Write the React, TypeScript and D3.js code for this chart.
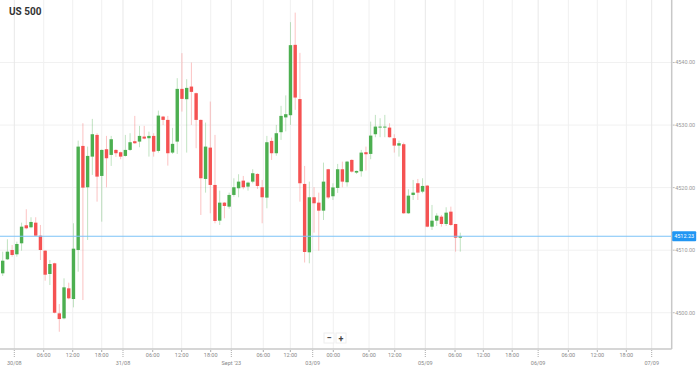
import React from "react";
import * as d3 from "d3";

const W = 699;
const H = 367;

// hourly candles
const opens = [
  4506.3, 4508.54, 4510.03, 4509.34, 4511.1, 4513.98, 4513.66, 4514.4, 4512.32, 4509.92,
  4506.19, 4507.9, 4499.9, 4499.1, 4503.9, 4502.19, 4510.03, 4526.67, 4520.06, 4524.96,
  4528.43, 4521.87, 4526.14, 4525.23, 4526.03, 4525.66, 4525.07, 4526.03, 4527.42, 4527.36,
  4528.16, 4527.9, 4528.27, 4525.87, 4531.36, 4530.83, 4525.6, 4527.36, 4535.79, 4534.14,
  4536.16, 4535.1, 4530.83, 4521.39, 4526.4, 4520.43, 4514.72, 4517.6, 4516.96, 4518.83,
  4519.9, 4521.12, 4520.16, 4520.96, 4522.19, 4520.06, 4518.4, 4527.47, 4525.5, 4528.86,
  4531.23, 4531.58, 4542.83, 4534.16, 4520.59, 4509.66, 4518.46, 4517.6, 4516.32, 4522.94,
  4518.62, 4519.95, 4522.94, 4520.86, 4524.43, 4522.4, 4522.62, 4525.66, 4525.39, 4528.54,
  4529.6, 4529.6, 4529.6, 4527.9, 4526.72, 4526.94, 4515.9, 4518.83, 4520.7, 4519.36,
  4520.32, 4513.76, 4514.72, 4515.36, 4514.19, 4516.16, 4514.19, 4512.0,
];
const highs = [
  4509.76, 4511.74, 4510.83, 4511.36, 4514.4, 4516.54, 4515.26, 4515.26, 4514.03, 4510.0,
  4508.43, 4508.0, 4501.39, 4505.5, 4504.8, 4514.3, 4527.52, 4530.3, 4526.56, 4530.99,
  4528.7, 4526.1, 4528.27, 4528.27, 4526.14, 4525.76, 4528.43, 4528.7, 4531.47, 4529.87,
  4529.87, 4528.96, 4528.7, 4532.32, 4531.47, 4531.47, 4529.55, 4537.5, 4541.5, 4537.34,
  4540.0, 4535.2, 4530.9, 4530.4, 4533.76, 4528.43, 4519.52, 4517.7, 4519.2, 4521.5,
  4522.14, 4521.87, 4520.96, 4522.94, 4522.3, 4521.23, 4528.27, 4528.0, 4530.03, 4533.07,
  4534.75, 4546.46, 4547.98, 4541.55, 4523.47, 4520.96, 4520.06, 4519.2, 4524.0, 4523.0,
  4520.7, 4523.79, 4524.16, 4524.27, 4524.54, 4522.72, 4526.03, 4526.56, 4530.56, 4531.63,
  4531.1, 4531.63, 4530.3, 4528.54, 4527.52, 4527.2, 4519.74, 4521.23, 4521.39, 4521.5,
  4520.43, 4517.23, 4515.9, 4515.63, 4516.86, 4516.96, 4514.2, 4512.8,
];
const lows = [
  4505.87, 4508.43, 4508.96, 4508.96, 4509.92, 4513.34, 4513.5, 4512.27, 4508.43, 4505.12,
  4504.43, 4499.9, 4496.96, 4498.94, 4502.14, 4500.86, 4506.56, 4502.03, 4511.63, 4522.03,
  4517.76, 4514.56, 4520.06, 4523.47, 4524.91, 4524.54, 4524.96, 4525.87, 4526.99, 4526.46,
  4527.74, 4524.96, 4524.96, 4525.6, 4530.0, 4523.52, 4525.39, 4525.39, 4532.16, 4525.6,
  4530.03, 4526.3, 4515.63, 4519.2, 4515.9, 4514.3, 4514.03, 4515.1, 4516.64, 4518.56,
  4518.46, 4519.74, 4519.52, 4520.7, 4519.79, 4514.3, 4516.7, 4524.43, 4525.1, 4527.63,
  4529.0, 4530.03, 4532.43, 4517.76, 4508.03, 4507.9, 4512.8, 4509.92, 4514.83, 4518.19,
  4518.03, 4519.15, 4520.06, 4520.16, 4522.4, 4522.19, 4521.76, 4522.72, 4524.54, 4528.06,
  4528.06, 4528.06, 4528.0, 4525.6, 4524.96, 4515.8, 4515.8, 4518.03, 4518.03, 4519.1,
  4513.66, 4513.23, 4513.87, 4513.76, 4513.87, 4513.87, 4509.76, 4509.76,
];
const closes = [
  4508.32, 4509.76, 4509.23, 4510.99, 4513.76, 4513.5, 4514.51, 4512.32, 4510.03, 4506.08,
  4507.79, 4500.0, 4498.99, 4504.06, 4502.3, 4510.24, 4526.56, 4520.0, 4525.07, 4528.54,
  4521.76, 4526.03, 4524.7, 4527.74, 4525.5, 4524.96, 4526.03, 4527.26, 4527.1, 4528.27,
  4527.84, 4528.27, 4525.76, 4531.52, 4530.83, 4525.5, 4527.0, 4535.79, 4534.19, 4535.95,
  4535.31, 4530.83, 4521.5, 4526.56, 4520.43, 4514.67, 4517.6, 4517.07, 4518.83, 4520.06,
  4520.96, 4520.06, 4520.8, 4522.3, 4520.27, 4518.46, 4527.26, 4525.5, 4528.7, 4531.47,
  4531.74, 4542.78, 4534.4, 4520.7, 4509.71, 4518.46, 4517.5, 4516.32, 4520.96, 4518.43,
  4520.03, 4522.94, 4520.96, 4524.16, 4522.56, 4522.67, 4525.6, 4525.34, 4528.32, 4529.76,
  4529.76, 4529.76, 4528.06, 4526.72, 4527.1, 4515.9, 4518.72, 4519.2, 4519.2, 4520.27,
  4513.76, 4514.72, 4515.52, 4514.19, 4516.0, 4514.03, 4512.0, 4512.23,
];

const lastPrice = 4512.23;

const yTicks = [4500, 4510, 4520, 4530, 4540];

// x tick positions in candle slots
const xTickPos = [
  2.46, 8.69, 14.84, 20.99, 25.5, 31.8, 37.94, 44.09, 48.46, 55.24, 60.97, 65.71,
  70.08, 77.65, 83.1, 89.58, 95.88, 101.88, 108.0, 113.5, 119.9, 126.04, 132.19, 137.57,
];
const xTickLabels = [
  "30/08", "06:00", "12:00", "18:00", "31/08", "06:00", "12:00", "18:00", "Sept '23",
  "06:00", "12:00", "03/09", "00:00", "06:00", "12:00", "05/09", "06:00", "12:00",
  "18:00", "06/09", "06:00", "12:00", "18:00", "07/09",
];
const xTickIsDate = [
  true, false, false, false, true, false, false, false, true, false, false, true,
  false, false, false, true, false, false, false, true, false, false, false, true,
];

const plotRight = 671.7;
const plotBottom = 349;

const UP = "#4caf50";
const DOWN = "#f55252";

export default function App() {
  const x = d3.scaleLinear().domain([-0.572, 141.81]).range([0, plotRight]);
  const y = d3.scaleLinear().domain([4494.2, 4550.0]).range([plotBottom, 0]);
  const bw = 3.4;
  const font = "Roboto, 'Open Sans', sans-serif";

  return (
    <div style={{ position: "absolute", left: 0, top: 0 }}>
      <svg width={W} height={H} style={{ display: "block", background: "#fff" }}>
        {/* grid */}
        {yTicks.map((t) => (
          <line key={"gy" + t} x1={0} x2={plotRight} y1={y(t)} y2={y(t)} stroke="#f1f1f1" />
        ))}
        {xTickPos.map((p, i) => (
          <line
            key={"gx" + i}
            x1={x(p)}
            x2={x(p)}
            y1={0}
            y2={plotBottom}
            stroke={xTickIsDate[i] ? "#e8e8e8" : "#f0f0f0"}
          />
        ))}

        {/* candles */}
        {opens.map((o, i) => {
          const c = closes[i];
          const up = c >= o;
          const col = up ? UP : DOWN;
          const cx = x(i);
          const top = y(Math.max(o, c));
          const bot = y(Math.min(o, c));
          return (
            <g key={i}>
              <line
                x1={cx}
                x2={cx}
                y1={y(highs[i])}
                y2={y(lows[i])}
                stroke={col}
                strokeOpacity={0.35}
                strokeWidth={1}
              />
              <rect
                x={cx - bw / 2}
                y={top}
                width={bw}
                height={Math.max(1, bot - top)}
                fill={col}
              />
            </g>
          );
        })}

        {/* last price line */}
        <line
          x1={0}
          x2={plotRight}
          y1={y(lastPrice)}
          y2={y(lastPrice)}
          stroke="#7cc3f7"
          strokeWidth={1.2}
        />

        {/* borders */}
        <line x1={plotRight} x2={plotRight} y1={0} y2={plotBottom} stroke="#c8c8c8" strokeWidth={1.5} />
        <line x1={0} x2={plotRight} y1={plotBottom} y2={plotBottom} stroke="#c8c8c8" strokeWidth={1.5} />

        {/* y axis */}
        {yTicks.map((t) => (
          <g key={"yl" + t}>
            <line x1={plotRight + 1} x2={plotRight + 3} y1={y(t)} y2={y(t)} stroke="#bbb" />
            <text
              x={plotRight + 3.5}
              y={y(t)}
              dy="0.35em"
              fontSize={5.5}
              fill="#999"
              fontFamily={font}
            >
              {t.toFixed(2)}
            </text>
          </g>
        ))}
        <rect x={plotRight + 0.5} y={y(lastPrice) - 5} width={24} height={10} fill="#2196f3" rx={1} />
        <text
          x={plotRight + 12.5}
          y={y(lastPrice)}
          dy="0.35em"
          textAnchor="middle"
          fontSize={5.5}
          fill="#fff"
          fontFamily={font}
        >
          {lastPrice.toFixed(2)}
        </text>

        {/* x axis */}
        {xTickPos.map((p, i) => (
          <g key={"xl" + i}>
            <line
              x1={x(p)}
              x2={x(p)}
              y1={plotBottom + 1}
              y2={xTickIsDate[i] ? plotBottom + 9 : plotBottom + 3}
              stroke="#aaa"
              strokeDasharray={xTickIsDate[i] ? "1,1" : undefined}
            />
            <text
              x={x(p)}
              y={xTickIsDate[i] ? 365 : 357}
              textAnchor="middle"
              fontSize={5.5}
              fill="#888"
              fontFamily={font}
            >
              {xTickLabels[i]}
            </text>
          </g>
        ))}

        {/* title */}
        <text x={9} y={15} fontSize={10} fontWeight="bold" fill="#333" fontFamily={font}>
          US 500
        </text>

        {/* zoom buttons */}
        <g fontFamily={font} fill="#444" fontSize={9}>
          <rect x={324} y={333} width={10} height={10} fill="#fff" stroke="#eee" />
          <rect x={336} y={333} width={10} height={10} fill="#fff" stroke="#eee" />
          <text x={329} y={341} textAnchor="middle" fontWeight="bold">−</text>
          <text x={341} y={341.5} textAnchor="middle" fontWeight="bold">+</text>
        </g>
      </svg>
    </div>
  );
}
